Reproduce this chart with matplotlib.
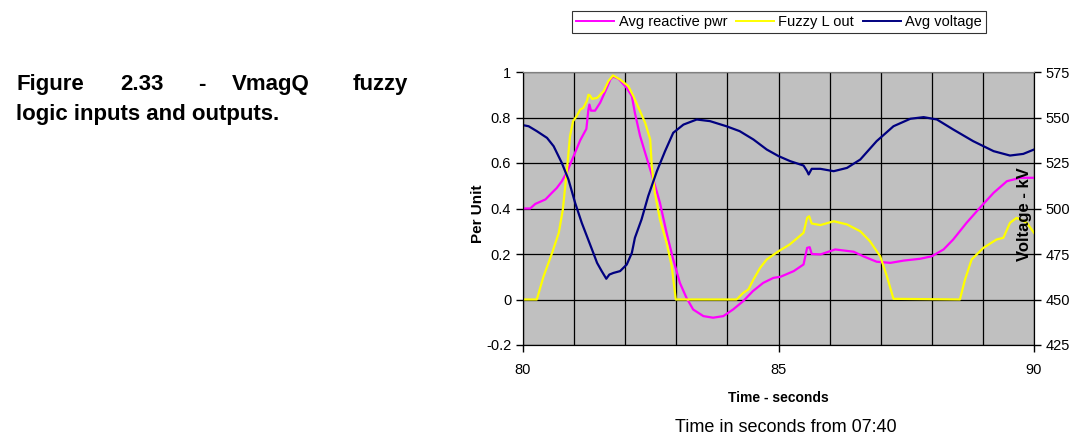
import matplotlib.pyplot as plt
from matplotlib.lines import Line2D
from matplotlib.ticker import MultipleLocator

plt.rcParams["font.family"] = ["Liberation Sans", "DejaVu Sans"]

# Avg reactive power (per unit)
t_q = [80.0, 80.14, 80.24, 80.44, 80.57, 80.66, 80.76, 80.86, 80.99, 81.12, 81.24, 81.28,
       81.30, 81.33, 81.41, 81.51, 81.61, 81.71, 81.76, 81.87, 82.03, 82.13, 82.19, 82.29,
       82.39, 82.55, 82.68, 82.81, 82.94, 83.07, 83.20, 83.33, 83.53, 83.72, 83.92, 84.11,
       84.31, 84.50, 84.70, 84.90, 85.04, 85.30, 85.49, 85.56, 85.61, 85.65, 85.82, 86.11,
       86.47, 86.66, 86.92, 87.19, 87.45, 87.77, 88.0, 88.23, 88.42, 88.68, 88.94, 89.21,
       89.47, 89.73, 90.0]
q_pu = [0.40, 0.40, 0.42, 0.44, 0.47, 0.49, 0.52, 0.56, 0.63, 0.70, 0.75, 0.835,
        0.857, 0.83, 0.83, 0.865, 0.915, 0.967, 0.98, 0.97, 0.93, 0.894, 0.82, 0.72,
        0.645, 0.527, 0.425, 0.293, 0.176, 0.073, 0.007, -0.044, -0.073, -0.08, -0.073, -0.044,
        -0.007, 0.037, 0.073, 0.095, 0.10, 0.125, 0.154, 0.227, 0.23, 0.20, 0.198, 0.22,
        0.21, 0.19, 0.166, 0.161, 0.171, 0.179, 0.19, 0.22, 0.264, 0.337, 0.403, 0.469,
        0.52, 0.535, 0.535]

# Fuzzy L out (per unit)
t_f = [80.0, 80.27, 80.40, 80.57, 80.70, 80.78, 80.86, 80.92, 80.98, 81.05, 81.12, 81.18,
       81.25, 81.28, 81.31, 81.35, 81.45, 81.58, 81.67, 81.76, 81.90, 82.06, 82.16, 82.29,
       82.39, 82.49, 82.52, 82.58, 82.68, 82.81, 82.91, 82.99, 84.18, 84.31, 84.41, 84.51,
       84.64, 84.77, 85.0, 85.22, 85.49, 85.56, 85.60, 85.65, 85.82, 86.08, 86.34, 86.60,
       86.79, 86.99, 87.12, 87.25, 88.55, 88.65, 88.78, 89.01, 89.27, 89.40, 89.53, 89.66,
       89.86, 90.0]
f_pu = [0.0, 0.0, 0.10, 0.205, 0.293, 0.396, 0.571, 0.718, 0.784, 0.806, 0.835, 0.842,
        0.872, 0.90, 0.897, 0.882, 0.886, 0.916, 0.96, 0.985, 0.967, 0.938, 0.894, 0.828,
        0.777, 0.703, 0.586, 0.469, 0.352, 0.249, 0.147, 0.0, 0.0, 0.029, 0.044, 0.088,
        0.139, 0.176, 0.212, 0.242, 0.293, 0.359, 0.366, 0.334, 0.327, 0.344, 0.33, 0.30,
        0.256, 0.19, 0.103, 0.003, 0.0, 0.088, 0.176, 0.227, 0.264, 0.271, 0.337, 0.359,
        0.337, 0.293]

# Avg voltage (kV)
t_v = [80.0, 80.11, 80.27, 80.47, 80.60, 80.76, 80.89, 81.02, 81.15, 81.25, 81.35, 81.45,
       81.54, 81.63, 81.69, 81.77, 81.90, 82.03, 82.13, 82.19, 82.32, 82.45, 82.62, 82.78,
       82.94, 83.14, 83.40, 83.66, 83.98, 84.24, 84.51, 84.77, 85.0, 85.23, 85.49, 85.56,
       85.59, 85.65, 85.82, 86.08, 86.34, 86.60, 86.92, 87.25, 87.58, 87.84, 88.10, 88.42,
       88.81, 89.21, 89.53, 89.79, 90.0]
v_kv = [545.8, 545.2, 542.5, 538.8, 534.2, 525.0, 515.9, 503.1, 492.1, 484.8, 477.5, 470.1,
        465.6, 461.4, 463.7, 464.6, 465.6, 469.2, 475.6, 483.9, 494.0, 506.8, 520.5, 531.5,
        541.6, 546.1, 548.9, 548.0, 545.2, 542.5, 537.9, 532.4, 528.8, 526.0, 523.6, 520.5,
        518.7, 521.8, 521.8, 520.5, 522.3, 526.9, 537.0, 545.2, 549.3, 550.2, 548.9, 543.4,
        537.0, 531.5, 529.1, 530.0, 532.4]

W, H = 1073, 442
fig = plt.figure(figsize=(W / 100, H / 100), dpi=100)
ax = fig.add_axes([523 / W, 1 - 345 / H, 511 / W, 273 / H])
ax2 = ax.twinx()

ax.set_facecolor("#c0c0c0")
ax.plot(t_q, q_pu, color="#ff00ff", lw=1.6)
ax.plot(t_f, f_pu, color="#ffff00", lw=1.6)
ax2.plot(t_v, v_kv, color="#000080", lw=1.6)

ax.set_xlim(80, 90)
ax.set_ylim(-0.2, 1.0)
ax2.set_ylim(425, 575)
ax.set_xticks([80, 85, 90])
ax.xaxis.set_minor_locator(MultipleLocator(1))
ax.set_yticks([-0.2, 0, 0.2, 0.4, 0.6, 0.8, 1.0])
ax.set_yticklabels(["-0.2", "0", "0.2", "0.4", "0.6", "0.8", "1"])
ax2.set_yticks([425, 450, 475, 500, 525, 550, 575])

ax.grid(True, which="both", axis="x", color="black", lw=0.9)
ax.grid(True, which="major", axis="y", color="black", lw=0.9)
ax.set_axisbelow(True)

ax.tick_params(axis="both", which="major", labelsize=10.5, direction="out", length=5, width=1)
ax.tick_params(axis="x", which="minor", direction="in", length=4)
ax.tick_params(axis="x", pad=8)
ax2.tick_params(axis="y", labelsize=10.5, direction="out", length=5, width=1)

for a in (ax, ax2):
    a.spines["top"].set_color("#808080")
    a.spines["left"].set_color("black")
    a.spines["right"].set_color("black")
    a.spines["bottom"].set_color("black")

ax.set_xlabel("Time - seconds", fontsize=10, fontweight="bold", labelpad=10)
ax.set_ylabel("Per Unit", fontsize=11, fontweight="bold")
ax.yaxis.set_label_coords(-0.075, 0.48)
ax2.set_ylabel("Voltage - kV", fontsize=12, fontweight="bold", rotation=90)
ax2.yaxis.set_label_coords(0.966, 0.48)

handles = [Line2D([], [], color="#ff00ff", lw=1.4),
           Line2D([], [], color="#ffff00", lw=1.4),
           Line2D([], [], color="#000080", lw=1.4)]
leg = fig.legend(handles, ["Avg reactive pwr", "Fuzzy L out", "Avg voltage"],
                 loc="center", bbox_to_anchor=(779 / W, 1 - 22 / H), ncol=3,
                 fontsize=10.5, frameon=True, fancybox=False, handlelength=2.6,
                 handletextpad=0.3, columnspacing=0.6, borderpad=0.3)
leg.get_frame().set_edgecolor("black")
leg.get_frame().set_linewidth(0.8)

# justified caption on the left
title_font = dict(fontsize=16, fontweight="bold", va="baseline")
fig.text(16 / W, 1 - 90 / H, "Figure", ha="left", **title_font)
fig.text(120 / W, 1 - 90 / H, "2.33", ha="left", **title_font)
fig.text(198 / W, 1 - 90 / H, "-", ha="left", **title_font)
fig.text(232 / W, 1 - 90 / H, "VmagQ", ha="left", **title_font)
fig.text(408 / W, 1 - 90 / H, "fuzzy", ha="right", **title_font)
fig.text(16 / W, 1 - 120 / H, "logic inputs and outputs.", ha="left", **title_font)

fig.text(786 / W, 1 - 428 / H, "Time in seconds from 07:40", ha="center", va="center", fontsize=13)

fig.savefig("out.png", dpi=100)
